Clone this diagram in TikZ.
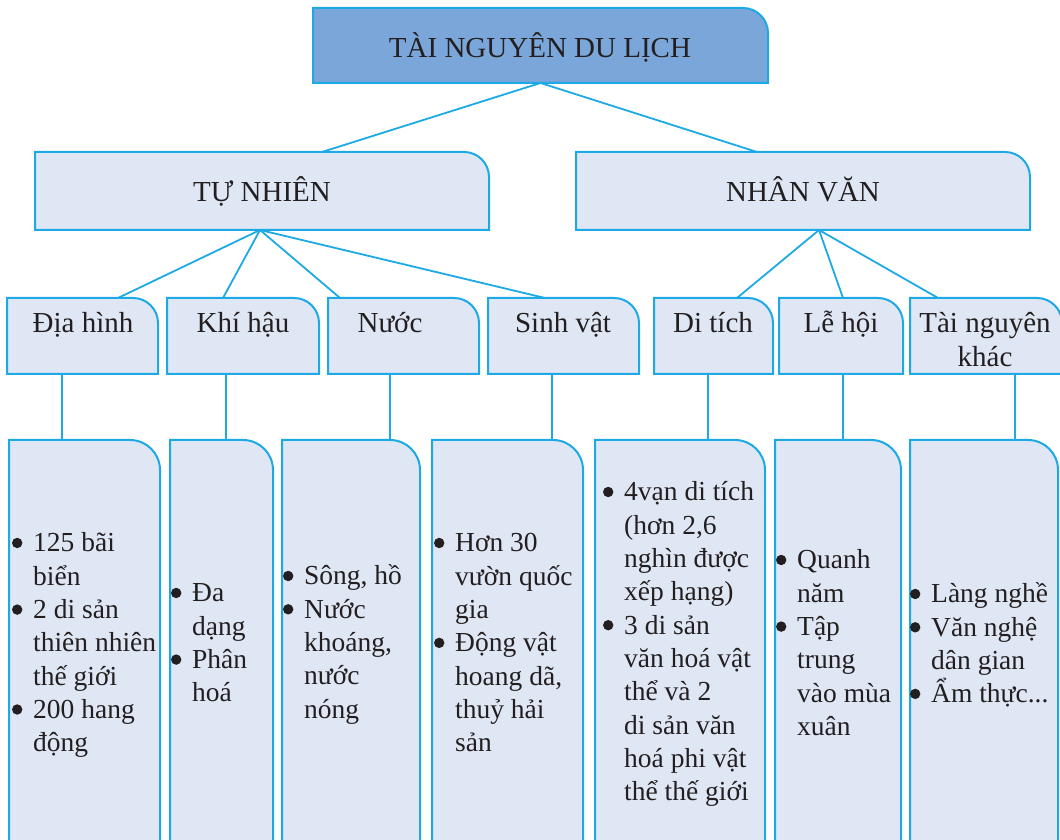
\documentclass[tikz,border=0pt]{standalone}
\usepackage{fontspec}
\setmainfont{Liberation Serif}
\definecolor{lineblue}{HTML}{1CA9E4}
\definecolor{darkfill}{HTML}{7BA6D9}
\definecolor{lightfill}{HTML}{E0E7F4}
\definecolor{ink}{HTML}{231F20}
\tikzset{
  frame/.style={inner sep=0pt, outer sep=0pt},
  boxline/.style={draw=lineblue, line width=2pt, fill=lightfill},
  topline/.style={draw=lineblue, line width=2pt, fill=darkfill},
  link/.style={draw=lineblue, line width=1.8pt},
  head/.style={text=ink, font=\fontsize{29}{33}\selectfont, inner sep=0pt},
  body/.style={text=ink, font=\fontsize{27.5}{33.3}\selectfont, inner sep=0pt, anchor=base west},
}
% #1 name, #2 x1, #3 ytop, #4 x2, #5 ybottom, #6 radius, #7 style
\newcommand\trbox[7]{%
  \node[frame, anchor=north west, minimum width=#4pt-#2pt, minimum height=#3pt-#5pt] (#1) at (#2,#3) {};
  \draw[#7] (#1.south west) -- (#1.north west) -- ([xshift=-#6pt]#1.north east)
    arc[start angle=90, end angle=0, radius=#6pt] -- (#1.south east) -- cycle;}
\newcommand\bl{\llap{\raisebox{9pt}{\tikz[baseline=0pt]\fill[ink] (0pt,0pt) circle[radius=5.2pt];}\hspace{10.8pt}}}
\newcommand\blk[1]{\vtop{\baselineskip=33.3pt\lineskiplimit=-20pt #1}}
\begin{document}
\begin{tikzpicture}[x=1pt,y=1pt]
\useasboundingbox (0,0) rectangle (1060,840);
\begin{scope}
\clip (0,0) rectangle (1060,840);
% boxes
\trbox{top}{313}{832}{768}{757}{25}{topline}
\trbox{tn}{35}{688}{489}{610}{25}{boxline}
\trbox{nv}{576}{688}{1030}{610}{25}{boxline}
\trbox{a1}{7}{542}{158}{466}{25}{boxline}
\trbox{a2}{167}{542}{319}{466}{25}{boxline}
\trbox{a3}{328}{542}{479}{466}{25}{boxline}
\trbox{a4}{488}{542}{639}{466}{25}{boxline}
\trbox{a5}{654}{542}{773}{466}{25}{boxline}
\trbox{a6}{779}{542}{903}{466}{25}{boxline}
\trbox{a7}{910}{542}{1062}{466}{25}{boxline}
\trbox{b1}{9}{400}{160}{-20}{30}{boxline}
\trbox{b2}{170}{400}{273}{-20}{30}{boxline}
\trbox{b3}{282}{400}{420}{-20}{30}{boxline}
\trbox{b4}{432}{400}{583}{-20}{30}{boxline}
\trbox{b5}{595}{400}{765}{-20}{30}{boxline}
\trbox{b6}{775}{400}{901}{-20}{30}{boxline}
\trbox{b7}{910}{400}{1058}{-20}{30}{boxline}
% connectors
\draw[link] (top.south) -- ([xshift=287pt]tn.north west);
\draw[link] (top.south) -- ([xshift=181pt]nv.north west);
\draw[link] ([xshift=225pt]tn.south west) -- ([xshift=111pt]a1.north west);
\draw[link] ([xshift=225pt]tn.south west) -- ([xshift=56pt]a2.north west);
\draw[link] ([xshift=225pt]tn.south west) -- ([xshift=12pt]a3.north west);
\draw[link] ([xshift=225pt]tn.south west) -- ([xshift=57pt]a4.north west);
\draw[link] ([xshift=243pt]nv.south west) -- ([xshift=83pt]a5.north west);
\draw[link] ([xshift=243pt]nv.south west) -- ([xshift=64pt]a6.north west);
\draw[link] ([xshift=243pt]nv.south west) -- ([xshift=28pt]a7.north west);
\draw[link] ([xshift=55pt]a1.south west) -- ([xshift=55pt]a1.south west |- b1.north);
\draw[link] ([xshift=59pt]a2.south west) -- ([xshift=59pt]a2.south west |- b2.north);
\draw[link] ([xshift=62pt]a3.south west) -- ([xshift=62pt]a3.south west |- b3.north);
\draw[link] ([xshift=64pt]a4.south west) -- ([xshift=64pt]a4.south west |- b4.north);
\draw[link] ([xshift=54pt]a5.south west) -- ([xshift=54pt]a5.south west |- b5.north);
\draw[link] ([xshift=64pt]a6.south west) -- ([xshift=64pt]a6.south west |- b6.north);
\draw[link] ([xshift=105pt]a7.south west) -- ([xshift=105pt]a7.south west |- b7.north);
% heading texts
\node[head, anchor=base] (ttop) at (540,782) {TÀI NGUYÊN DU LỊCH};
\node[head, anchor=base] (ttn) at (262,638) {TỰ NHIÊN};
\node[head, anchor=base] (tnv) at (803,638) {NHÂN VĂN};
\node[head, anchor=base] (ta1) at (83,507) {Địa hình};
\node[head, anchor=base] (ta2) at (243,507) {Khí hậu};
\node[head, anchor=base] (ta3) at (390,507) {Nước};
\node[head, anchor=base] (ta4) at (563,507) {Sinh vật};
\node[head, anchor=base] (ta5) at (713,507) {Di tích};
\node[head, anchor=base] (ta6) at (841,507) {Lễ hội};
\node[head, anchor=base] (ta7) at (985,507) {\blk{\hbox to 0pt{\hss Tài nguyên\hss}\hbox to 0pt{\hss khác\hss}}};
% body texts
\node[body] (tb1) at (33,288) {\blk{\hbox{\bl 125 bãi}\hbox{biển}\hbox{\bl 2 di sản}\hbox{thiên nhiên}\hbox{thế giới}\hbox{\bl 200 hang}\hbox{động}}};
\node[body] (tb2) at (192,238) {\blk{\hbox{\bl Đa}\hbox{dạng}\hbox{\bl Phân}\hbox{hoá}}};
\node[body] (tb3) at (304,255) {\blk{\hbox{\bl Sông, hồ}\hbox{\bl Nước}\hbox{khoáng,}\hbox{nước}\hbox{nóng}}};
\node[body] (tb4) at (455,288) {\blk{\hbox{\bl Hơn 30}\hbox{vườn quốc}\hbox{gia}\hbox{\bl Động vật}\hbox{hoang dã,}\hbox{thuỷ hải}\hbox{sản}}};
\node[body] (tb5) at (624,339) {\blk{\hbox{\bl 4vạn di tích}\hbox{(hơn 2,6}\hbox{nghìn được}\hbox{xếp hạng)}\hbox{\bl 3 di sản}\hbox{văn hoá vật}\hbox{thể và 2}\hbox{di sản văn}\hbox{hoá phi vật}\hbox{thể thế giới}}};
\node[body] (tb6) at (797,271) {\blk{\hbox{\bl Quanh}\hbox{năm}\hbox{\bl Tập}\hbox{trung}\hbox{vào mùa}\hbox{xuân}}};
\node[body] (tb7) at (931,237) {\blk{\hbox{\bl Làng nghề}\hbox{\bl Văn nghệ}\hbox{dân gian}\hbox{\bl Ẩm thực...}}};
\end{scope}
\end{tikzpicture}
\end{document}
